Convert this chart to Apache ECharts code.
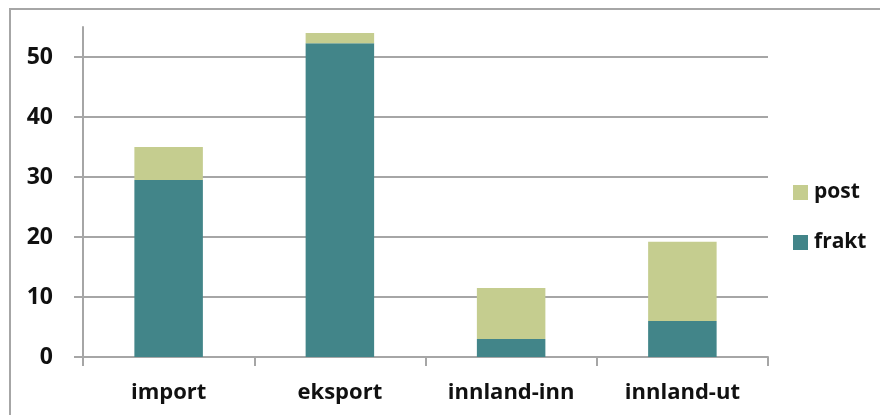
<!DOCTYPE html>
<html lang="no">
<head>
    <meta charset="UTF-8">
    <script src="https://cdn.jsdelivr.net/npm/echarts@6/dist/echarts.min.js"></script>
    <title>frakt og post</title>
    <style>
        html, body { margin: 0; padding: 0; background: #fff; }
        #frame { position: absolute; left: 9px; top: 8px; width: 900px; height: 420px;
                 border-left: 2px solid #a6a6a6; border-top: 2px solid #a6a6a6; }
        #main { position: absolute; left: 0; top: 0; width: 880px; height: 415px; }
    </style>
</head>
<body>
    <div id="frame"></div>
    <div id="main"></div>

    <script type="text/javascript">
        // kategorier og verdier
        var categories = ['import', 'eksport', 'innland-inn', 'innland-ut'];
        var frakt = [29.5, 52.3, 3.0, 6.0];
        var post = [5.5, 1.7, 8.5, 13.2];
        var yTicks = [0, 10, 20, 30, 40, 50];

        var myChart = echarts.init(document.getElementById('main'));

        var labelFont = {
            fontFamily: 'Open Sans',
            fontWeight: 'bold',
            color: '#111'
        };

        myChart.setOption({
            animation: false,
            backgroundColor: 'transparent',
            grid: { left: 83, right: 112, top: 27, bottom: 58 },
            legend: {
                data: ['post', 'frakt'],
                orient: 'vertical',
                left: 788,
                top: 177,
                itemWidth: 15,
                itemHeight: 15,
                itemGap: 29,
                icon: 'rect',
                textStyle: Object.assign({ fontSize: 21, padding: [0, 0, 0, 1] }, labelFont)
            },
            xAxis: {
                type: 'category',
                data: categories,
                axisLine: { lineStyle: { color: '#a6a6a6', width: 2 } },
                axisTick: { show: true, length: 9, alignWithLabel: false, lineStyle: { color: '#a6a6a6', width: 2 } },
                axisLabel: Object.assign({ fontSize: 22, margin: 25, interval: 0 }, labelFont)
            },
            yAxis: {
                type: 'value',
                min: yTicks[0],
                max: 55,
                interval: 10,
                axisLine: { show: true, lineStyle: { color: '#a6a6a6', width: 2 } },
                axisTick: { show: true, length: 9, lineStyle: { color: '#a6a6a6', width: 2 } },
                axisLabel: Object.assign({ fontSize: 23, margin: 30, showMaxLabel: false }, labelFont),
                splitLine: { show: true, showMaxLine: false, lineStyle: { color: '#a6a6a6', width: 2 } }
            },
            series: [{
                name: 'frakt',
                type: 'bar',
                stack: 'total',
                barWidth: '40%',
                itemStyle: { color: '#428589' },
                data: frakt
            }, {
                name: 'post',
                type: 'bar',
                stack: 'total',
                barWidth: '40%',
                itemStyle: { color: '#c5cd8f' },
                data: post
            }]
        });
    </script>
</body>
</html>
